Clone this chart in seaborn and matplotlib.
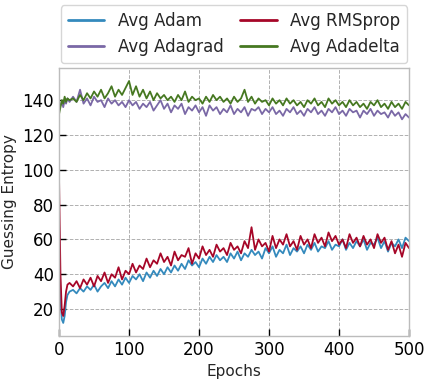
import numpy as np
import pandas as pd
import matplotlib
matplotlib.use("Agg")
import matplotlib.pyplot as plt
import seaborn as sns

epochs = [0, 2, 4, 6, 8, 10, 12, 15] + list(range(20, 501, 5))

adam = [70, 25, 14, 12, 16, 24, 28, 30,
        31, 29, 32, 30, 33, 31, 34, 30, 33, 35, 32, 36, 33, 37, 34, 38,
        35, 39, 37, 40, 36, 41, 38, 42, 39, 43, 40, 44, 41, 45, 42, 46,
        43, 48, 45, 47, 44, 49, 46, 50, 47, 51, 48, 50, 47, 52, 49, 53,
        48, 52, 50, 54, 51, 53, 49, 55, 52, 56, 50, 54, 52, 57, 51, 55,
        53, 56, 52, 57, 54, 58, 53, 56, 55, 59, 54, 57, 56, 60, 54, 58,
        55, 59, 56, 60, 54, 58, 57, 61, 55, 59, 53, 58, 56, 60, 55, 61, 59]

rmsprop = [95, 40, 18, 16, 22, 30, 34, 35,
           33, 36, 32, 37, 34, 38, 33, 39, 36, 41, 35, 40, 38, 44, 37, 42,
           40, 46, 41, 45, 43, 49, 44, 48, 46, 52, 47, 50, 45, 53, 48, 51,
           50, 55, 46, 52, 49, 56, 51, 54, 50, 57, 53, 55, 51, 58, 54, 56,
           52, 59, 55, 67, 54, 60, 56, 58, 53, 62, 55, 60, 57, 63, 56, 59,
           54, 62, 57, 60, 55, 63, 58, 61, 56, 64, 59, 62, 57, 60, 55, 63,
           58, 61, 56, 62, 57, 60, 55, 63, 58, 61, 54, 59, 52, 57, 50, 58, 55]

adagrad = [134, 137, 139, 136, 140, 138, 141, 139,
           142, 139, 146, 138, 141, 137, 142, 139, 140, 136, 141, 138, 140, 137, 139, 136,
           140, 137, 139, 135, 138, 136, 139, 134, 137, 140, 135, 138, 133, 137, 135, 138,
           132, 136, 134, 137, 133, 136, 131, 137, 134, 136, 132, 135, 133, 137, 132, 135,
           133, 136, 131, 135, 134, 136, 132, 135, 133, 136, 132, 134, 131, 135, 133, 136,
           132, 134, 131, 135, 133, 136, 132, 134, 131, 135, 133, 136, 132, 134, 131, 135,
           133, 134, 130, 134, 132, 135, 131, 134, 132, 133, 130, 134, 131, 133, 129, 132, 130]

adadelta = [132, 136, 140, 138, 142, 139, 141, 140,
            141, 139, 143, 140, 144, 141, 145, 142, 146, 141, 144, 148, 142, 146, 143, 147,
            151, 143, 148, 142, 146, 141, 145, 140, 144, 141, 143, 140, 142, 139, 143, 140,
            145, 139, 142, 140, 141, 138, 142, 139, 143, 140, 142, 139, 141, 138, 142, 139,
            141, 146, 139, 142, 138, 141, 139, 140, 137, 141, 138, 140, 137, 141, 138, 140,
            137, 139, 136, 140, 138, 141, 137, 139, 136, 141, 138, 140, 137, 139, 136, 140,
            137, 139, 136, 138, 135, 139, 137, 140, 136, 138, 135, 139, 136, 138, 135, 139, 137]

series_names = ["Avg Adam", "Avg RMSprop", "Avg Adagrad", "Avg Adadelta"]
colors = {"Avg Adam": "#348ABD", "Avg RMSprop": "#A60628",
          "Avg Adagrad": "#7A68A6", "Avg Adadelta": "#467821"}

df = pd.concat([
    pd.DataFrame({"Epochs": epochs, "GE": vals, "Series": name})
    for name, vals in zip(series_names, [adam, rmsprop, adagrad, adadelta])
])

sns.set_style("white")
plt.rcParams['font.family'] = ['DejaVu Sans']

fig = plt.figure(figsize=(4.31, 3.84), dpi=100)
ax = fig.add_axes([0.137, 0.125, 0.812, 0.698])

sns.lineplot(data=df, x="Epochs", y="GE", hue="Series", hue_order=series_names,
             palette=colors, linewidth=1.3, ax=ax, legend=False)

ax.set_xlim(0, 500)
ax.set_ylim(4.5, 158.5)
ax.set_xticks([0, 100, 200, 300, 400, 500])
ax.set_yticks([20, 40, 60, 80, 100, 120, 140])
ax.tick_params(axis='both', direction='in', labelsize=12, length=5, width=1,
               colors='black', top=False, right=False, bottom=True, left=True)
ax.grid(True, linestyle='--', color='#b0b0b0', linewidth=0.7)
for s in ax.spines.values():
    s.set_color('#bcbcbc')
    s.set_linewidth(1)
ax.set_xlabel("Epochs", fontsize=11)
ax.set_ylabel("Guessing Entropy", fontsize=11)

from matplotlib.lines import Line2D
order = ["Avg Adam", "Avg Adagrad", "Avg RMSprop", "Avg Adadelta"]
handles = [Line2D([], [], color=colors[n], lw=2) for n in order]
ax.legend(handles, order, ncol=2, loc='lower center', bbox_to_anchor=(0.5, 1.0),
          fontsize=12, frameon=True, edgecolor='#cccccc', handlelength=2.2,
          columnspacing=1.0, borderaxespad=0.3)

fig.savefig("out.png", dpi=100)
